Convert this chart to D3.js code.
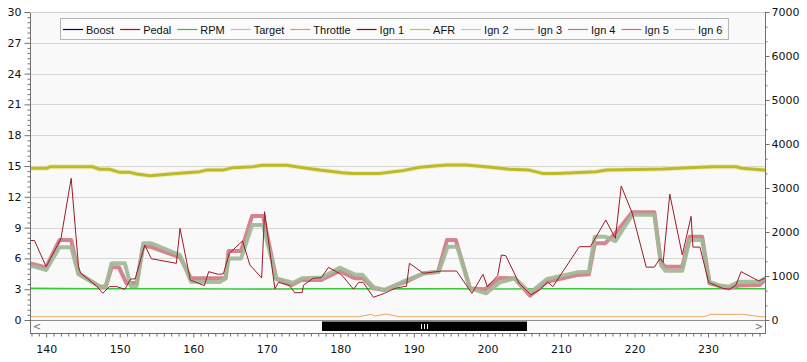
<!DOCTYPE html>
<html><head><meta charset="utf-8">
<script src="https://cdn.jsdelivr.net/npm/d3@7"></script>
<style>
html,body{margin:0;padding:0;background:#fff;}
svg{display:block;}
</style></head>
<body>
<svg id="c" width="807" height="362"></svg>
<script>
// ---------- data ----------
const legendNames = ["Boost","Pedal","RPM","Target","Throttle","Ign 1","AFR","Ign 2","Ign 3","Ign 4","Ign 5","Ign 6"];
const legendColors = ["#000080","#cc0000","#33c033","#e0a8e0","#e0a050","#8b0000","#c8c520","#a8cce0","#88a4b4","#a88878","#d06a78","#a4d0a0"];

const leftTicks = [0,3,6,9,12,15,18,21,24,27,30];
const rightTicks = [0,1000,2000,3000,4000,5000,6000,7000];
const xTicks = [140,150,160,170,180,190,200,210,220,230];

const ign1X = [137.5,138.4,140.0,142.0,143.4,144.4,144.7,146.8,147.7,148.6,149.6,150.7,151.5,152.1,153.4,154.3,157.7,158.2,159.6,161.5,162.1,163.4,164.1,164.9,166.7,167.7,169.3,169.7,171.1,171.6,173.1,173.8,174.8,175.0,176.3,177.4,178.4,179.3,180.2,181.8,182.5,183.1,184.5,186.0,187.5,189.0,189.4,191.3,193.8,195.8,197.9,199.4,200.0,201.4,201.9,202.5,204.3,205.9,207.1,208.2,208.9,212.5,214.0,216.1,217.4,218.2,219.7,221.6,222.7,223.5,223.9,224.8,226.5,227.7,227.95,228.9,230.1,232.0,232.9,233.8,234.5,236.9,237.7,238.2];
const ign1Y = [7.72,7.75,5.19,7.9,13.8,5.19,4.55,3.34,2.6,3.25,3.25,2.99,4.0,4.0,7.3,5.97,5.52,8.93,3.9,3.35,4.71,4.45,4.5,6.49,7.7,5.36,4.1,10.55,3.04,3.67,3.34,2.66,2.66,3.4,4.06,4.12,5.13,4.77,4.38,3.0,3.67,3.67,2.21,2.6,3.1,3.3,5.52,4.55,4.77,4.77,2.6,4.45,3.25,4.32,6.33,6.26,3.6,2.45,2.92,3.7,3.25,7.14,7.14,9.74,7.95,13.05,10.4,5.15,5.15,6.0,5.6,12.25,6.33,10.1,7.1,7.1,3.65,3.08,3.0,3.4,4.71,3.8,4.06,4.1];

const ign5X = [137.5,138.4,140.0,141.8,143.4,144.4,147.3,148.1,148.9,149.9,150.9,152.3,153.2,154.3,158.2,159.7,164.4,164.8,166.5,168.0,169.5,171.3,173.4,174.7,177.4,179.9,182.0,183.1,184.5,186.0,187.6,189.0,191.3,193.3,194.5,195.7,197.65,199.7,201.7,203.7,205.8,208.1,212.2,213.8,214.6,216.0,217.4,219.7,222.7,223.6,224.2,226.5,227.5,229.2,230.2,231.8,232.9,234.2,237.0,237.7,238.2];
const ign5Y = [5.55,5.4,5.13,7.79,7.79,4.55,3.25,3.25,5.13,5.13,3.6,3.6,7.2,7.1,6.1,4.06,4.06,6.72,6.72,10.13,10.13,4.0,3.41,3.9,3.9,4.77,4.06,4.06,3.08,2.92,3.4,3.73,4.55,4.71,7.79,7.79,3.08,2.99,4.1,4.06,2.37,3.73,4.38,4.45,7.47,7.47,8.44,10.5,10.5,5.6,5.19,5.19,8.12,8.12,3.57,3.25,3.1,3.35,3.4,3.9,4.0];

const ign6X = [137.5,138.4,140.0,141.8,143.4,144.4,147.3,148.1,148.9,150.7,151.5,152.3,153.2,154.3,158.2,159.7,163.6,164.4,164.8,166.5,168.0,169.5,171.3,173.6,174.8,177.5,179.9,182.0,183.0,184.5,186.0,188.5,191.2,193.4,194.6,195.9,197.6,199.8,201.7,203.7,205.8,208.1,212.2,213.8,214.6,216.0,217.4,219.7,222.7,223.6,224.2,226.5,227.5,229.2,230.2,231.6,232.9,234.2,237.0,237.7,238.2];
const ign6Y = [5.3,5.2,4.87,7.08,7.08,4.45,3.25,3.25,5.52,5.52,3.3,3.3,7.47,7.47,6.33,3.73,3.7,4.06,6.0,6.0,9.25,9.25,4.06,3.62,4.06,4.15,5.1,4.42,4.4,3.2,2.92,3.73,4.5,4.71,7.14,7.14,3.1,2.6,3.67,4.06,2.65,4.0,4.64,4.71,8.12,8.12,7.69,10.25,10.25,5.36,4.8,4.8,7.79,7.79,3.7,3.35,3.25,3.73,3.73,4.06,4.1];

const afrX = [137.5,140.1,140.5,146.3,147.3,148.6,150.0,151.4,152.3,154.1,157.7,160.9,161.8,164.0,165.4,168.1,169.4,172.7,174.9,177.2,180.3,181.7,185.3,188.5,190.8,194.4,197.1,199.8,203.0,205.7,207.5,209.4,214.8,216.2,223.8,227.4,230.6,233.8,234.6,237.6,238.2];
const afrY = [14.78,14.78,14.93,14.93,14.68,14.68,14.38,14.38,14.22,14.06,14.28,14.45,14.6,14.6,14.84,14.93,15.07,15.07,14.84,14.6,14.35,14.28,14.28,14.55,14.87,15.1,15.1,14.93,14.68,14.6,14.28,14.28,14.45,14.6,14.7,14.84,14.93,14.93,14.78,14.6,14.55];

const rpmX = [137.5,142,147,152,158,165,170,176,182,188,195,201,207,213,219,225,231,238.2];
const rpmY = [722,716,714,712,711,706,704,712,713,710,712,708,712,711,705,709,712,713];

const thrX = [137.5,182.5,184.2,184.7,186.2,188.0,229.5,230.3,234.8,237.0,238.2];
const thrY = [0.32,0.32,0.55,0.38,0.58,0.32,0.32,0.55,0.55,0.33,0.32];

// ---------- layout ----------
const L = 30, R = 765, T = 12, B = 320, AX = 333;
const svg = d3.select("#c");
const x = d3.scaleLinear().domain([137.8, 237.75]).range([L, R]);
const yL = d3.scaleLinear().domain([0, 30]).range([B, T]);
const yR = d3.scaleLinear().domain([0, 7000]).range([B, T]);

svg.append("rect").attr("x",0).attr("y",0).attr("width",807).attr("height",362).attr("fill","#fff");
svg.append("rect").attr("x",L).attr("y",T).attr("width",R-L).attr("height",B-T).attr("fill","#f9f9f9");

// gridlines
svg.append("g").selectAll("line").data(leftTicks.filter(d=>d>0)).join("line")
  .attr("x1",L).attr("x2",R).attr("y1",d=>Math.round(yL(d))+0.5).attr("y2",d=>Math.round(yL(d))+0.5)
  .attr("stroke","#d6d6d6").attr("stroke-width",1);

// clip
svg.append("defs").append("clipPath").attr("id","pc").append("rect")
  .attr("x",L).attr("y",T).attr("width",R-L).attr("height",B-T);
const plot = svg.append("g").attr("clip-path","url(#pc)");

function draw(xs, ys, scale, color, w, op){
  const line = d3.line().x(d=>x(d[0])).y(d=>scale(d[1]));
  plot.append("path").datum(xs.map((v,i)=>[v, ys[i]]))
    .attr("d", line).attr("fill","none").attr("stroke",color)
    .attr("stroke-width",w).attr("stroke-linejoin","round").attr("opacity",op||1);
}
draw(thrX, thrY, yL, "#e2aa66", 1);
draw(rpmX, rpmY, yR, "#3cc43c", 1.3);
draw(afrX, afrY, yL, "#e8e6a0", 5, 0.6);
draw(afrX, afrY, yL, "#bdb928", 3);
draw(ign5X, ign5Y, yL, "#d4848e", 4);
draw(ign6X, ign6Y, yL, "#a0b896", 4, 0.92);
draw(ign1X, ign1Y, yL, "#9c1a2a", 1);

// bottom border of plot
svg.append("line").attr("x1",L).attr("x2",R).attr("y1",B+0.5).attr("y2",B+0.5).attr("stroke","#8c8c8c");

// scrollbar
svg.append("rect").attr("x",L+1).attr("y",B+1).attr("width",R-L-2).attr("height",AX-B-1).attr("fill","#fbfbfb");
svg.append("text").attr("x",37).attr("y",330).attr("font-family","DejaVu Sans").attr("font-size",10).attr("fill","#707070").attr("text-anchor","middle").text("<");
svg.append("text").attr("x",759).attr("y",330).attr("font-family","DejaVu Sans").attr("font-size",10).attr("fill","#707070").attr("text-anchor","middle").text(">");
svg.append("rect").attr("x",322).attr("y",321.5).attr("width",205).attr("height",9.5).attr("fill","#000");
[421,424,427].forEach(px=>svg.append("line").attr("x1",px+0.5).attr("x2",px+0.5).attr("y1",324).attr("y2",329).attr("stroke","#fff"));

// axes
const fam = "DejaVu Sans";
function styleAxis(g, fs){
  g.selectAll("path").attr("stroke","#707070");
  g.selectAll("line").attr("stroke","#707070");
  g.selectAll("text").attr("font-family",fam).attr("font-size",fs).attr("fill","#111");
}
// left
const gl = svg.append("g").attr("transform",`translate(${L+0.5},0)`)
  .call(d3.axisLeft(yL).tickValues(leftTicks).tickSize(6).tickPadding(3).tickSizeOuter(0));
gl.select("path").remove();
styleAxis(gl, 11);
const gl2 = svg.append("g").attr("transform",`translate(${L+0.5},0)`)
  .call(d3.axisLeft(yL).tickValues(d3.range(0,30.01,0.5).filter(v=>v%3!==0)).tickSize(3).tickFormat(""));
gl2.select("path").remove(); styleAxis(gl2, 11);
svg.append("line").attr("x1",L+0.5).attr("x2",L+0.5).attr("y1",T).attr("y2",AX).attr("stroke","#707070");

// right
const gr = svg.append("g").attr("transform",`translate(${R+0.5},0)`)
  .call(d3.axisRight(yR).tickValues(rightTicks).tickFormat(d3.format("d")).tickSize(4).tickPadding(2).tickSizeOuter(0));
gr.select("path").remove(); styleAxis(gr, 11);
const minorR = []; rightTicks.slice(0,-1).forEach(v=>{minorR.push(v+1000/3, v+2000/3);});
const gr2 = svg.append("g").attr("transform",`translate(${R+0.5},0)`)
  .call(d3.axisRight(yR).tickValues(minorR).tickSize(2).tickFormat(""));
gr2.select("path").remove(); styleAxis(gr2, 11);
svg.append("line").attr("x1",R+0.5).attr("x2",R+0.5).attr("y1",T).attr("y2",AX).attr("stroke","#707070");

// top border
svg.append("line").attr("x1",L).attr("x2",R).attr("y1",T+0.5).attr("y2",T+0.5).attr("stroke","#cfcfcf");

// bottom x axis
const gx = svg.append("g").attr("transform",`translate(0,${AX+0.5})`)
  .call(d3.axisBottom(x).tickValues(xTicks).tickSize(4).tickPadding(8).tickSizeOuter(0));
gx.select("path").remove(); styleAxis(gx, 11);
const gx2 = svg.append("g").attr("transform",`translate(0,${AX+0.5})`)
  .call(d3.axisBottom(x).tickValues(d3.range(138,238,1).filter(v=>v%10!==0)).tickSize(3).tickFormat(""));
gx2.select("path").remove(); styleAxis(gx2, 11);
svg.append("line").attr("x1",L).attr("x2",R+1).attr("y1",AX+0.5).attr("y2",AX+0.5).attr("stroke","#707070");

// legend
const lg = svg.append("g");
const box = lg.append("rect").attr("x",60.5).attr("y",18.5).attr("height",21).attr("fill","#fbfbfb").attr("stroke","#b4b4b4");
let cx = 63;
legendNames.forEach((n,i)=>{
  lg.append("line").attr("x1",cx).attr("x2",cx+20).attr("y1",29.5).attr("y2",29.5).attr("stroke",legendColors[i]).attr("stroke-width",1.2);
  const t = lg.append("text").attr("x",cx+23).attr("y",33.5).attr("font-family","Liberation Sans").attr("font-size",11).attr("fill","#111").text(n);
  cx += 23 + t.node().getComputedTextLength() + 6;
});
box.attr("width", cx - 60.5);
</script>
</body></html>
